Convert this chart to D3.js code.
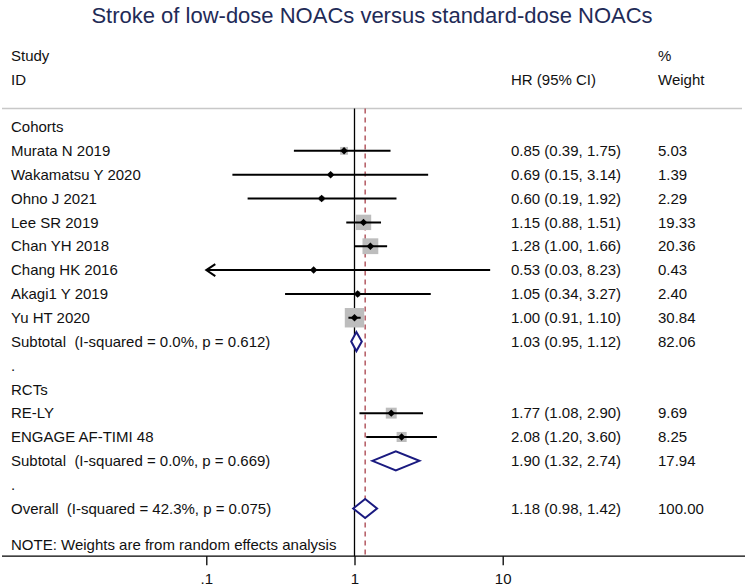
<!DOCTYPE html>
<html>
<head>
<meta charset="utf-8">
<script src="https://cdn.jsdelivr.net/npm/d3@7"></script>
<style>
  body { margin: 0; background: #fff; }
  svg { display: block; font-family: "Liberation Sans", Arial, sans-serif; }
  text { white-space: pre; }
</style>
</head>
<body>
<svg id="chart" width="747" height="586"></svg>
<script>
// study level data
const cohortStudies = ["Murata N 2019", "Wakamatsu Y 2020", "Ohno J 2021", "Lee SR 2019",
  "Chan YH 2018", "Chang HK 2016", "Akagi1 Y 2019", "Yu HT 2020"];
const cohortHR = [0.85, 0.69, 0.60, 1.15, 1.28, 0.53, 1.05, 1.00];
const cohortLo = [0.39, 0.15, 0.19, 0.88, 1.00, 0.03, 0.34, 0.91];
const cohortHi = [1.75, 3.14, 1.92, 1.51, 1.66, 8.23, 3.27, 1.10];
const cohortWeight = [5.03, 1.39, 2.29, 19.33, 20.36, 0.43, 2.40, 30.84];

const rctStudies = ["RE-LY", "ENGAGE AF-TIMI 48"];
const rctHR = [1.77, 2.08];
const rctLo = [1.08, 1.20];
const rctHi = [2.90, 3.60];
const rctWeight = [9.69, 8.25];

// pooled estimates: cohorts subtotal, RCT subtotal, overall
const pooledLabels = ["Subtotal  (I-squared = 0.0%, p = 0.612)",
  "Subtotal  (I-squared = 0.0%, p = 0.669)",
  "Overall  (I-squared = 42.3%, p = 0.075)"];
const pooledHR = [1.03, 1.90, 1.18];
const pooledLo = [0.95, 1.32, 0.98];
const pooledHi = [1.12, 2.74, 1.42];
const pooledWeight = [82.06, 17.94, 100.00];

const xTicks = [0.1, 1, 10];
const xTickLabels = [".1", "1", "10"];

const svg = d3.select("#chart");
const fs = 15;

// build the rows top to bottom
const rows = [];
rows.push({ type: "group", label: "Cohorts" });
cohortStudies.forEach((s, i) => rows.push({ type: "study", label: s, hr: cohortHR[i], lo: cohortLo[i], hi: cohortHi[i], w: cohortWeight[i] }));
rows.push({ type: "pooled", label: pooledLabels[0], hr: pooledHR[0], lo: pooledLo[0], hi: pooledHi[0], w: pooledWeight[0] });
rows.push({ type: "dot", label: "." });
rows.push({ type: "group", label: "RCTs" });
rctStudies.forEach((s, i) => rows.push({ type: "study", label: s, hr: rctHR[i], lo: rctLo[i], hi: rctHi[i], w: rctWeight[i] }));
rows.push({ type: "pooled", label: pooledLabels[1], hr: pooledHR[1], lo: pooledLo[1], hi: pooledHi[1], w: pooledWeight[1] });
rows.push({ type: "dot", label: "." });
rows.push({ type: "pooled", label: pooledLabels[2], hr: pooledHR[2], lo: pooledLo[2], hi: pooledHi[2], w: pooledWeight[2] });

// scales
const x = d3.scaleLog().domain([0.1, 10]).range([206.3, 502.7]);
const y = d3.scaleLinear().domain([0, 16]).range([127, 508.5]);

const colHR = 511;
const colW = 658;
const axisY = y(18);
const topLineY = y(-0.78);
const fmt = d3.format(".2f");

// title
svg.append("text")
  .attr("x", 372).attr("y", 15).attr("dy", "0.35em")
  .attr("text-anchor", "middle")
  .style("font-size", "22px")
  .style("fill", "#1f2b57")
  .text("Stroke of low-dose NOACs versus standard-dose NOACs");

// headers
const headers = [
  { x: 11, r: -3, t: "Study" }, { x: 11, r: -2, t: "ID" },
  { x: colHR, r: -2, t: "HR (95% CI)" },
  { x: colW, r: -3, t: "%" }, { x: colW, r: -2, t: "Weight" }
];
svg.selectAll(".hdr").data(headers).enter().append("text")
  .attr("x", d => d.x).attr("y", d => y(d.r)).attr("dy", "0.35em")
  .style("font-size", fs + "px").style("fill", "#111")
  .text(d => d.t);

// top separator
svg.append("line")
  .attr("x1", 2).attr("x2", 742).attr("y1", topLineY).attr("y2", topLineY)
  .style("stroke", "#c8c8c8").style("stroke-width", 1.5);

// null line and overall effect line
svg.append("line")
  .attr("x1", x(1)).attr("x2", x(1)).attr("y1", topLineY).attr("y2", axisY)
  .style("stroke", "#000").style("stroke-width", 1.3);
svg.append("line")
  .attr("x1", x(pooledHR[2])).attr("x2", x(pooledHR[2])).attr("y1", topLineY).attr("y2", axisY)
  .style("stroke", "#a8404a").style("stroke-width", 1.3)
  .style("stroke-dasharray", "5,4");

// row labels
svg.selectAll(".lbl").data(rows).enter().append("text")
  .attr("x", 11).attr("y", (d, i) => y(i)).attr("dy", "0.35em")
  .style("font-size", fs + "px").style("fill", "#111")
  .text(d => d.label);

// numbers
const numRows = rows.map((d, i) => ({ d, i })).filter(o => o.d.hr !== undefined);
svg.selectAll(".hrtxt").data(numRows).enter().append("text")
  .attr("x", colHR).attr("y", o => y(o.i)).attr("dy", "0.35em")
  .style("font-size", fs + "px").style("fill", "#111")
  .text(o => `${fmt(o.d.hr)} (${fmt(o.d.lo)}, ${fmt(o.d.hi)})`);
svg.selectAll(".wtxt").data(numRows).enter().append("text")
  .attr("x", colW).attr("y", o => y(o.i)).attr("dy", "0.35em")
  .style("font-size", fs + "px").style("fill", "#111")
  .text(o => fmt(o.d.w));

// study markers
const studyRows = numRows.filter(o => o.d.type === "study");
const boxK = 3.5;
svg.selectAll(".box").data(studyRows).enter().append("rect")
  .attr("x", o => x(o.d.hr) - boxK * Math.sqrt(o.d.w) / 2)
  .attr("y", o => y(o.i) - boxK * Math.sqrt(o.d.w) / 2)
  .attr("width", o => boxK * Math.sqrt(o.d.w))
  .attr("height", o => boxK * Math.sqrt(o.d.w))
  .style("fill", "#bdbdbd");

const xMin = x.domain()[0];
svg.selectAll(".ci").data(studyRows).enter().append("line")
  .attr("x1", o => x(Math.max(o.d.lo, xMin)))
  .attr("x2", o => x(o.d.hi))
  .attr("y1", o => y(o.i)).attr("y2", o => y(o.i))
  .style("stroke", "#000").style("stroke-width", 2);

// arrows for intervals running off the scale
studyRows.filter(o => o.d.lo < xMin).forEach(o => {
  const tx = x(xMin), ty = y(o.i);
  svg.append("path")
    .attr("d", `M${tx + 9},${ty - 6}L${tx},${ty}L${tx + 9},${ty + 6}`)
    .style("fill", "none").style("stroke", "#000").style("stroke-width", 2);
});

svg.selectAll(".pt").data(studyRows).enter().append("path")
  .attr("d", d3.symbol(d3.symbolSquare, 28))
  .attr("transform", o => `translate(${x(o.d.hr)},${y(o.i)}) rotate(45)`)
  .style("fill", "#000");

// pooled diamonds
const pooledRows = numRows.filter(o => o.d.type === "pooled");
const dh = 9.5;
svg.selectAll(".diam").data(pooledRows).enter().append("path")
  .attr("d", o => {
    const cy = y(o.i);
    return `M${x(o.d.lo)},${cy}L${x(o.d.hr)},${cy - dh}L${x(o.d.hi)},${cy}L${x(o.d.hr)},${cy + dh}Z`;
  })
  .style("fill", "#fff").style("stroke", "#1a1a80").style("stroke-width", 2);

// note
svg.append("text")
  .attr("x", 11).attr("y", y(17.5)).attr("dy", "0.35em")
  .style("font-size", fs + "px").style("fill", "#111")
  .text("NOTE: Weights are from random effects analysis");

// x axis
const axis = d3.axisBottom(x)
  .tickValues(xTicks)
  .tickFormat((d, i) => xTickLabels[i])
  .tickSize(9).tickSizeOuter(0).tickPadding(8);
const gAxis = svg.append("g")
  .attr("transform", `translate(0,${axisY})`)
  .call(axis);
gAxis.select(".domain").remove();
gAxis.append("line")
  .attr("x1", 2).attr("x2", 745).attr("y1", 0).attr("y2", 0)
  .style("stroke", "#000").style("stroke-width", 1.3);
gAxis.selectAll(".tick line").style("stroke-width", 1.3);
gAxis.selectAll(".tick text")
  .style("font-size", fs + "px")
  .style("font-family", "'Liberation Sans', Arial, sans-serif")
  .style("fill", "#111");
</script>
</body>
</html>
